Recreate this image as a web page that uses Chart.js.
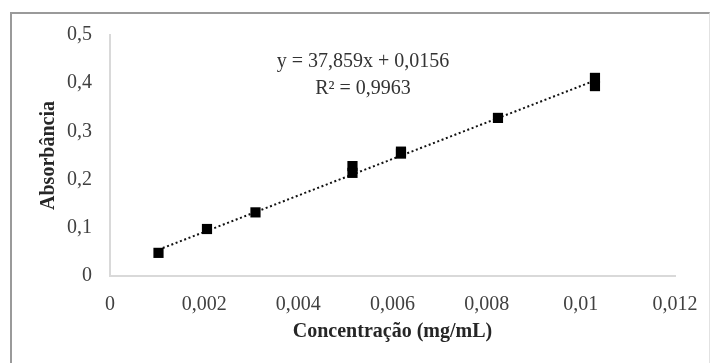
<!DOCTYPE html>
<html>
<head>
<meta charset="utf-8">
<script src="https://cdn.jsdelivr.net/npm/chart.js@4/dist/chart.umd.min.js"></script>
<style>
  html, body { margin: 0; padding: 0; background: #ffffff; }
  #wrap { position: relative; width: 710px; height: 363px; overflow: hidden; background: #fff; }
  #frame { position: absolute; left: 10px; top: 12px; width: 697px; height: 400px;
           border-left: 2px solid #9a9a9a; border-top: 2px solid #9a9a9a; border-right: 1px solid #e2e2e2; }
  canvas { position: absolute; left: 0; top: 0; }
</style>
</head>
<body>
<div id="wrap">
  <div id="frame"></div>
  <canvas id="c" width="710" height="363"></canvas>
</div>
<script>
// Data
const concentrations = [0.00103, 0.00206, 0.00309, 0.00515, 0.00515, 0.00618, 0.00618, 0.00824, 0.0103, 0.0103];
const absorbances    = [0.048,   0.0975,  0.132,   0.214,   0.228,   0.254,   0.258,   0.328,   0.394,  0.411];
// Trendline end points (from the printed equation)
const trendX = [0.00103, 0.0103];
const trendY = [0.0546, 0.4056];
const xTickLabels = ['0', '0,002', '0,004', '0,006', '0,008', '0,01', '0,012'];
const yTickLabels = ['0', '0,1', '0,2', '0,3', '0,4', '0,5'];
const equationText = 'y = 37,859x + 0,0156';
const r2Text = 'R\u00B2 = 0,9963';
const xTitle = 'Concentração (mg/mL)';
const yTitle = 'Absorbância';

const scatterData = concentrations.map((x, i) => ({ x: x, y: absorbances[i] }));
const trendData = trendX.map((x, i) => ({ x: x, y: trendY[i] }));

const annotationPlugin = {
  id: 'eqn',
  afterDraw(chart) {
    const ctx = chart.ctx;
    ctx.save();
    ctx.fillStyle = '#333333';
    ctx.font = '20px "Liberation Serif"';
    ctx.textAlign = 'center';
    ctx.textBaseline = 'middle';
    ctx.fillText(equationText, 363, 62);
    ctx.fillText(r2Text, 363, 89);
    ctx.restore();
  }
};

new Chart(document.getElementById('c'), {
  type: 'scatter',
  data: {
    datasets: [
      {
        data: scatterData,
        pointStyle: 'rect',
        pointRadius: 7.2,
        pointHoverRadius: 7.2,
        backgroundColor: '#000000',
        borderColor: '#000000',
        borderWidth: 0,
        showLine: false,
        order: 1
      },
      {
        data: trendData,
        showLine: true,
        pointRadius: 0,
        borderColor: '#111111',
        borderWidth: 2,
        borderDash: [2, 2.6],
        fill: false,
        order: 2
      }
    ]
  },
  options: {
    responsive: false,
    animation: false,
    devicePixelRatio: 1,
    layout: { padding: { left: 0, right: 35, top: 35, bottom: 0 } },
    plugins: { legend: { display: false }, tooltip: { enabled: false } },
    scales: {
      x: {
        type: 'linear',
        min: 0, max: 0.012,
        afterFit(scale) { scale.height = 87; scale.paddingRight = 0; scale.paddingLeft = 0; },
        ticks: {
          stepSize: 0.002,
          padding: 17,
          color: '#404040',
          font: { family: '"Liberation Serif"', size: 20 },
          maxRotation: 0,
          callback: (v, i) => xTickLabels[i]
        },
        grid: { display: false, drawTicks: false },
        border: { display: true, color: '#d9d9d9', width: 2 },
        title: {
          display: true,
          text: xTitle,
          color: '#262626',
          font: { family: '"Liberation Serif"', size: 20, weight: 'bold' },
          padding: { top: 0, bottom: 19 }
        }
      },
      y: {
        type: 'linear',
        min: 0, max: 0.5,
        afterFit(scale) { scale.width = 110; scale.paddingTop = 0; scale.paddingBottom = 0; },
        ticks: {
          stepSize: 0.1,
          padding: 18,
          color: '#404040',
          font: { family: '"Liberation Serif"', size: 20 },
          callback: (v, i) => yTickLabels[i]
        },
        grid: { display: false, drawTicks: false },
        border: { display: true, color: '#d9d9d9', width: 2 },
        title: {
          display: true,
          text: yTitle,
          color: '#262626',
          font: { family: '"Liberation Serif"', size: 20, weight: 'bold' },
          padding: { top: 37, bottom: 0 }
        }
      }
    }
  },
  plugins: [annotationPlugin]
});
</script>
</body>
</html>
